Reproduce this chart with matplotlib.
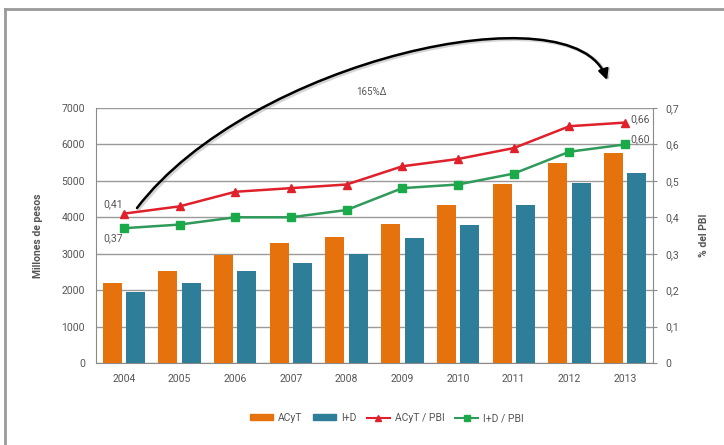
import matplotlib
matplotlib.use("Agg")
import matplotlib.pyplot as plt
import numpy as np
from matplotlib.lines import Line2D
from matplotlib.patches import Patch, FancyArrowPatch
from matplotlib.path import Path

years = ["2004", "2005", "2006", "2007", "2008", "2009", "2010", "2011", "2012", "2013"]
acyt = [2200, 2525, 2975, 3300, 3460, 3825, 4330, 4910, 5500, 5755]
imasd = [1950, 2200, 2525, 2750, 3000, 3430, 3800, 4330, 4950, 5215]
acyt_pbi = [0.41, 0.43, 0.47, 0.48, 0.49, 0.54, 0.56, 0.59, 0.65, 0.66]
imasd_pbi = [0.37, 0.38, 0.40, 0.40, 0.42, 0.48, 0.49, 0.52, 0.58, 0.60]

ORANGE = "#E6720E"
BLUE = "#2E7E99"
RED = "#E0202A"
GREEN = "#2F9A5A"
GREEN_MK = "#1BAA4A"
GRAY = "#8a8a8a"
TXT = "#555555"

plt.rcParams["font.family"] = ["Roboto", "DejaVu Sans"]

W, H = 724, 445
fig = plt.figure(figsize=(W / 100, H / 100), dpi=100)
ax = fig.add_axes([96 / W, 1 - 363 / H, 557 / W, 255 / H])
ax2 = ax.twinx()

x = np.arange(len(years))
w = 0.34
ax.bar(x - 0.21, acyt, w, color=ORANGE, zorder=3)
ax.bar(x + 0.21, imasd, w, color=BLUE, zorder=3)
ax.set_xlim(-0.5, len(years) - 0.5)
ax.set_ylim(0, 7000)
ax.set_yticks(range(0, 7001, 1000))
ax.set_xticks(x)
ax.set_xticklabels(years)
ax.grid(axis="y", color="#9a9a9a", linewidth=1, zorder=0)
ax.tick_params(length=0, labelsize=7.5, colors=TXT, pad=8)
for s in ["left", "right", "bottom"]:
    ax.spines[s].set_color(GRAY)
ax.spines["top"].set_visible(False)
ax.set_ylabel("Millones de pesos", fontsize=7.5, color=TXT, fontweight="bold", labelpad=13)

ax2.plot(x, acyt_pbi, color=RED, lw=1.8, marker="^", ms=6, zorder=4)
ax2.plot(x, imasd_pbi, color=GREEN, lw=1.8, marker="s", ms=6,
         markerfacecolor=GREEN_MK, markeredgecolor=GREEN_MK, zorder=4)
ax2.set_ylim(0, 0.7)
ax2.set_yticks(np.arange(0, 0.71, 0.1))
ax2.set_yticklabels(["0", "0,1", "0,2", "0,3", "0,4", "0,5", "0,6", "0,7"])
ax2.tick_params(length=3, labelsize=7.5, colors=TXT, pad=6, color=GRAY)
for s in ["left", "right", "bottom", "top"]:
    ax2.spines[s].set_visible(False)
ax2.set_ylabel("% del PBI", fontsize=7.5, color=TXT, fontweight="bold", labelpad=14)

lbl = dict(fontsize=7.5, color=TXT)
ax2.text(x[0] - 0.02, acyt_pbi[0] + 0.012, "0,41", ha="right", va="bottom", **lbl)
ax2.text(x[0] - 0.02, imasd_pbi[0] - 0.015, "0,37", ha="right", va="top", **lbl)
ax2.text(x[-1] + 0.09, acyt_pbi[-1] + 0.01, "0,66", ha="left", va="center", **lbl)
ax2.text(x[-1] + 0.09, imasd_pbi[-1] + 0.015, "0,60", ha="left", va="center", **lbl)

# curved arrow from the 2004 point towards 2013 (pixel coords, y from top)
def px(p, dx=0, dy=0):
    return ((p[0] + dx) / W, 1 - (p[1] + dy) / H)

arc = [(137, 208), (250, 60), (575, -12), (607, 80)]
codes = [Path.MOVETO, Path.CURVE4, Path.CURVE4, Path.CURVE4]
# soft shadow first, then the arrow itself
for dx, col, alpha in [(1.5, "#888888", 0.35), (0, "black", 1.0)]:
    fig.add_artist(FancyArrowPatch(path=Path([px(p, dx, dx) for p in arc], codes),
                                   arrowstyle="-|>,head_length=6,head_width=3",
                                   shrinkA=0, shrinkB=0, color=col, alpha=alpha,
                                   lw=1.8 if dx == 0 else 2.6,
                                   transform=fig.transFigure))
ax2.text(4.45, 0.745, "165%Δ", ha="center", va="center", fontsize=7, color=TXT)

handles = [Patch(color=ORANGE), Patch(color=BLUE),
           Line2D([], [], color=RED, marker="^", ms=4, lw=1.5),
           Line2D([], [], color=GREEN, marker="s", ms=4, lw=1.5,
                  markerfacecolor=GREEN_MK, markeredgecolor=GREEN_MK)]
fig.legend(handles, ["ACyT", "I+D", "ACyT / PBI", "I+D / PBI"], loc="center",
           bbox_to_anchor=(387 / W, 1 - 418 / H), ncol=4, frameon=False,
           fontsize=7.5, handlelength=2.2, handleheight=0.5, handletextpad=0.5,
           columnspacing=1.0, labelcolor=TXT)

# outer frame (top and left edges)
fig.add_artist(Line2D([5 / W, 5 / W], [0, 1 - 9 / H], color="#9a9a9a", lw=2,
                      transform=fig.transFigure))
fig.add_artist(Line2D([5 / W, 1], [1 - 9 / H, 1 - 9 / H], color="#9a9a9a", lw=2,
                      transform=fig.transFigure))

fig.savefig("out.png", dpi=100)
